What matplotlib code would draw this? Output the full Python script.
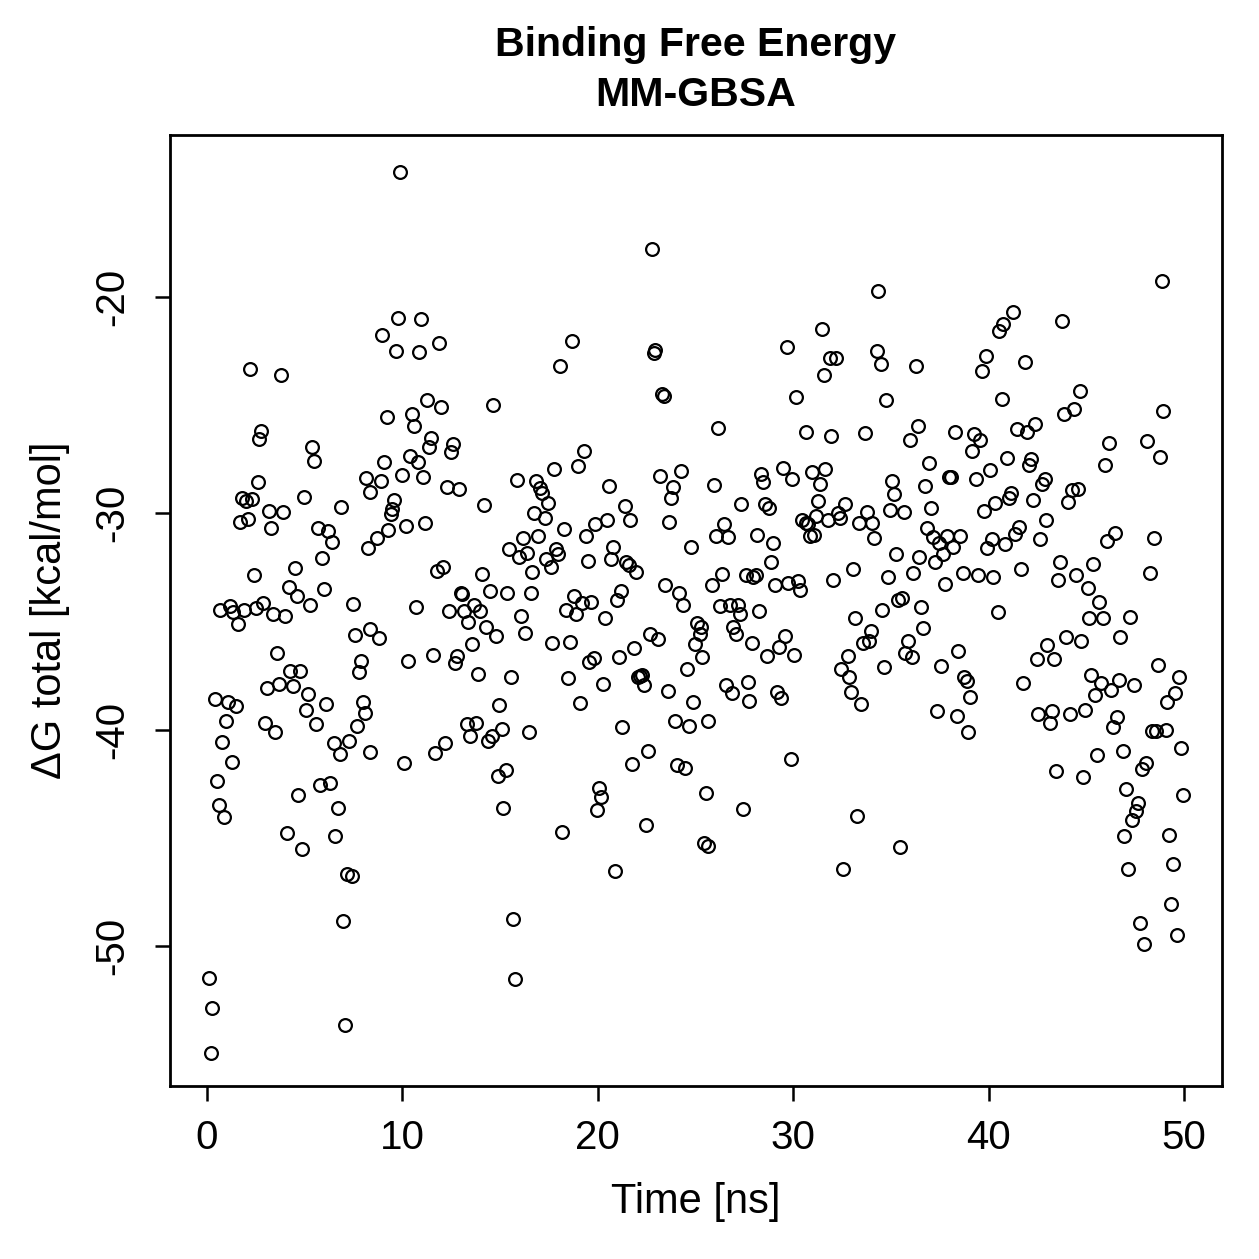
import matplotlib
matplotlib.use('Agg')
import matplotlib.pyplot as plt

# binding free energy per frame
time_ns = [
    2.20, 3.79, 2.76, 2.68, 5.39, 5.48, 2.59, 8.14, 8.34, 1.78, 2.00, 2.29, 4.98, 6.87, 3.17, 3.89,
    1.69, 2.08, 3.29, 5.68, 6.18, 6.38, 8.22, 5.89, 4.49, 2.39, 4.18, 4.59, 5.97, 5.27, 7.47, 0.67,
    1.18, 1.35, 1.89, 2.49, 2.88, 3.39, 3.99, 1.57, 7.57, 8.34, 3.58, 4.25, 4.76, 3.09, 3.68, 4.39,
    5.18, 6.07, 5.07, 5.56, 7.88, 7.79, 7.97, 8.07, 7.69, 7.28, 6.50, 6.79, 8.34, 0.39, 1.09, 1.48,
    0.99, 2.98, 3.50, 0.77, 1.28, 0.50, 0.60, 0.89, 5.78, 6.29, 4.67, 6.69, 4.08, 4.88, 6.57, 7.16,
    7.41, 6.98, 0.09, 0.27, 0.19, 7.08,
    9.88, 9.79, 10.97, 8.97, 9.67, 10.86, 11.87, 11.27, 11.98, 14.65, 9.20, 10.48, 10.58, 11.46, 11.38, 12.57,
    12.49, 10.39, 10.80, 9.07, 8.89, 9.96, 11.07, 12.27, 12.88, 15.86, 14.18, 9.59, 9.48, 9.40, 9.28, 10.18,
    11.17, 8.68, 16.75, 16.92, 16.17, 15.47, 15.97, 16.39, 12.06, 11.79, 14.09, 16.65, 13.00, 13.05, 14.48, 15.37,
    16.57, 10.68, 12.37, 13.17, 13.68, 13.97, 16.07, 13.37, 16.26, 14.26, 14.77, 13.58, 8.80, 10.30, 11.58, 12.79,
    12.69, 13.88, 15.57, 14.96, 13.29, 13.77, 13.47, 14.60, 14.37, 15.08, 16.48, 12.18, 11.68, 10.08, 15.29, 14.88,
    15.16, 15.66, 15.76,
    22.77, 18.66, 18.07, 22.94, 22.88, 23.30, 23.37, 19.28, 18.97, 17.77, 17.04, 17.16, 17.47, 16.86, 20.57, 23.17,
    24.27, 23.86, 23.76, 25.95, 21.38, 21.65, 20.47, 19.87, 17.30, 18.29, 19.38, 23.66, 24.77, 26.03, 20.76, 17.88,
    17.98, 17.33, 17.59, 19.48, 20.66, 21.44, 21.60, 21.95, 23.45, 24.17, 24.36, 25.86, 18.77, 19.67, 19.18, 18.37,
    18.87, 20.38, 21.17, 20.97, 25.06, 17.67, 18.58, 19.56, 19.81, 21.07, 21.87, 22.67, 23.08, 25.27, 25.23, 24.96,
    25.35, 24.56, 18.49, 20.27, 22.06, 22.16, 22.28, 22.38, 23.58, 24.86, 19.07, 21.25, 23.97, 24.67, 25.64, 22.57,
    21.77, 24.05, 24.46, 25.54, 20.08, 20.16, 19.97, 22.47, 18.17, 25.44, 25.65, 20.88,
    31.47, 29.67, 31.88, 32.17, 31.58, 30.14, 26.17, 30.65, 31.95, 33.66, 29.46, 28.35, 28.47, 29.95, 30.96, 31.64,
    31.37, 27.34, 28.57, 28.78, 31.27, 32.67, 32.28, 32.38, 33.76, 31.18, 30.47, 30.65, 30.77, 31.77, 33.38, 34.05,
    34.12, 26.47, 26.68, 28.16, 28.97, 30.86, 31.08, 28.86, 33.06, 26.37, 27.57, 27.96, 28.08, 29.07, 29.75, 30.26,
    30.35, 32.05, 26.25, 26.77, 27.19, 27.28, 28.26, 33.16, 26.93, 27.07, 27.88, 28.67, 29.27, 29.58, 30.06, 33.97,
    33.88, 33.56, 32.79, 32.46, 32.87, 32.97, 33.47, 26.56, 26.87, 27.67, 27.75, 29.16, 29.36, 29.87, 27.45, 33.27,
    32.56,
    34.36, 34.27, 34.48, 36.27, 41.26, 40.75, 40.55, 39.85, 39.66, 41.85, 34.75, 40.67, 36.37, 35.96, 38.26, 39.25,
    39.56, 39.15, 41.44, 42.36, 41.95, 36.97, 40.96, 42.15, 42.05, 40.06, 39.36, 37.99, 38.06, 35.06, 35.16, 36.76,
    42.87, 42.73, 41.13, 41.06, 40.34, 39.76, 42.26, 42.94, 34.95, 35.65, 37.05, 36.86, 37.17, 37.46, 37.85, 38.54,
    38.16, 37.65, 37.26, 36.45, 35.26, 36.15, 34.87, 37.75, 38.67, 39.44, 40.24, 40.17, 39.93, 40.84, 41.37, 41.56,
    42.65, 41.66, 35.38, 35.58, 34.56, 36.54, 40.46, 36.66, 35.86, 35.72, 36.06, 34.65, 37.55, 38.45, 38.76, 38.88,
    39.05, 37.36, 38.37, 38.95, 41.74, 42.46, 43.01, 43.35, 42.54, 43.26, 43.14, 35.47,
    48.86, 43.77, 44.66, 44.39, 43.86, 48.94, 46.16, 48.12, 48.76, 45.96, 44.28, 44.59, 44.05, 46.47, 46.06, 48.46,
    43.67, 43.57, 44.46, 45.36, 45.07, 45.66, 48.26, 45.15, 45.87, 47.25, 43.96, 44.74, 46.74, 48.65, 49.76, 49.54,
    49.13, 45.24, 45.75, 46.66, 46.26, 45.45, 47.46, 44.17, 44.95, 46.56, 46.35, 48.35, 48.55, 49.06, 49.85, 45.56,
    46.86, 48.05, 47.87, 43.45, 44.85, 47.05, 49.95, 47.63, 47.56, 47.35, 46.94, 49.25, 47.15, 49.45, 49.35, 47.75,
    49.66, 47.94,
]

delta_g = [
    -23.34, -23.61, -26.20, -26.58, -26.93, -27.58, -28.54, -28.37, -29.02, -29.28, -29.42, -29.34, -29.26, -29.72, -29.88, -29.95,
    -30.39, -30.28, -30.69, -30.69, -30.82, -31.31, -31.60, -32.07, -32.53, -32.87, -33.39, -33.82, -33.50, -34.25, -34.19, -34.47,
    -34.29, -34.55, -34.47, -34.39, -34.13, -34.67, -34.77, -35.13, -35.61, -35.36, -36.47, -37.29, -37.28, -38.06, -37.89, -37.97,
    -38.37, -38.80, -39.09, -39.76, -36.84, -37.34, -38.71, -39.22, -39.85, -40.54, -40.63, -41.13, -41.06, -38.57, -38.72, -38.91,
    -39.60, -39.71, -40.10, -40.56, -41.51, -42.38, -43.47, -44.04, -42.56, -42.47, -43.02, -43.64, -44.79, -45.53, -44.91, -46.66,
    -46.75, -48.83, -51.50, -52.88, -54.97, -53.64,
    -14.22, -20.96, -21.03, -21.77, -22.50, -22.53, -22.11, -24.76, -25.10, -25.01, -25.53, -25.42, -25.98, -26.53, -26.92, -26.78,
    -27.15, -27.34, -27.64, -27.64, -28.51, -28.23, -28.31, -28.77, -28.88, -28.45, -29.60, -29.37, -29.80, -30.05, -30.77, -30.57,
    -30.43, -31.14, -30.00, -31.05, -31.16, -31.66, -32.01, -31.82, -32.47, -32.68, -32.82, -32.70, -33.70, -33.75, -33.61, -33.68,
    -33.70, -34.32, -34.53, -34.53, -34.23, -34.53, -34.77, -35.01, -35.55, -35.24, -35.66, -36.06, -35.75, -36.83, -36.55, -36.60,
    -36.94, -37.43, -37.55, -38.88, -39.76, -39.71, -40.30, -40.30, -40.54, -39.99, -40.10, -40.63, -41.10, -41.56, -41.85, -42.13,
    -43.64, -48.77, -51.53,
    -17.77, -22.03, -23.19, -22.45, -22.58, -24.48, -24.58, -27.12, -27.80, -27.94, -28.84, -29.05, -29.51, -28.52, -28.72, -28.26,
    -28.06, -28.77, -29.28, -28.69, -29.66, -30.31, -30.31, -30.51, -30.22, -30.73, -31.05, -30.40, -31.54, -31.04, -31.54, -31.65,
    -31.88, -32.13, -32.47, -32.21, -32.10, -32.27, -32.39, -32.73, -33.31, -33.70, -34.24, -33.33, -33.82, -34.09, -34.16, -34.47,
    -34.66, -34.82, -33.59, -34.03, -35.07, -35.98, -35.94, -36.89, -36.70, -36.63, -36.21, -35.58, -35.80, -35.27, -35.58, -36.06,
    -36.66, -37.21, -37.60, -37.89, -37.57, -37.52, -37.48, -37.94, -38.20, -38.74, -38.78, -39.88, -39.62, -39.82, -39.62, -40.99,
    -41.58, -41.64, -41.79, -42.95, -42.71, -43.12, -43.72, -44.41, -44.75, -45.26, -45.38, -46.52,
    -21.48, -22.33, -22.83, -22.81, -23.62, -24.61, -26.07, -26.24, -26.41, -26.29, -27.92, -28.20, -28.54, -28.40, -28.09, -27.95,
    -28.63, -29.56, -29.58, -29.77, -29.43, -29.57, -29.97, -30.23, -29.94, -30.14, -30.31, -30.43, -30.49, -30.31, -30.46, -30.46,
    -31.16, -30.49, -31.08, -31.02, -31.39, -31.05, -31.02, -32.27, -32.56, -32.81, -32.84, -32.93, -32.87, -33.33, -33.24, -33.12,
    -33.55, -33.07, -34.29, -34.24, -34.22, -34.68, -34.50, -34.86, -35.24, -35.58, -36.00, -36.58, -36.17, -35.66, -36.55, -35.44,
    -35.89, -36.01, -36.60, -37.20, -37.55, -38.26, -38.82, -37.94, -38.29, -37.80, -38.66, -38.26, -38.53, -41.36, -43.69, -43.99,
    -46.44,
    -19.71, -22.51, -23.11, -23.18, -20.68, -21.25, -21.56, -22.73, -23.42, -23.02, -24.75, -24.73, -25.95, -26.63, -26.23, -26.32,
    -26.63, -27.12, -26.10, -25.87, -26.23, -27.66, -27.44, -27.50, -27.78, -28.01, -28.40, -28.31, -28.31, -28.52, -29.12, -28.74,
    -28.43, -28.65, -29.05, -29.28, -29.52, -29.89, -29.37, -30.32, -29.85, -29.95, -29.77, -30.67, -31.08, -31.39, -31.04, -31.05,
    -31.57, -31.88, -32.24, -32.01, -31.88, -32.75, -32.93, -33.28, -32.76, -32.84, -32.96, -31.19, -31.59, -31.43, -30.96, -30.65,
    -31.19, -32.56, -34.01, -33.90, -34.47, -34.35, -34.55, -35.29, -35.90, -36.47, -36.63, -37.09, -37.06, -36.35, -37.58, -37.74,
    -38.51, -39.14, -39.37, -40.10, -37.83, -36.74, -36.10, -36.74, -39.27, -39.14, -39.68, -45.43,
    -19.26, -21.12, -24.36, -25.18, -25.42, -25.26, -26.74, -26.66, -27.41, -27.77, -28.92, -28.86, -29.46, -30.91, -31.27, -31.16,
    -32.25, -33.08, -32.87, -32.36, -33.45, -34.08, -32.77, -34.85, -34.85, -34.81, -35.71, -35.89, -35.71, -37.00, -37.55, -38.32,
    -38.71, -37.49, -37.86, -37.71, -38.17, -38.41, -37.94, -39.28, -39.09, -39.40, -39.88, -40.05, -40.08, -40.02, -40.86, -41.17,
    -40.98, -41.53, -41.81, -41.91, -42.21, -42.73, -43.04, -43.41, -43.75, -44.18, -44.93, -44.89, -46.43, -46.20, -48.08, -48.94,
    -49.50, -49.90,
]

x_ticks = [0, 10, 20, 30, 40, 50]
y_ticks = [-20, -30, -40, -50]

plt.rcParams['font.family'] = ['Liberation Sans', 'DejaVu Sans']

fig = plt.figure(figsize=(6.295, 6.295), dpi=200)
ax = fig.add_axes([0.135, 0.1374, 0.8356, 0.7554])

# open circles, like R's default plot()
ax.plot(time_ns, delta_g, linestyle='none', marker='o', markersize=4.6,
        markerfacecolor='none', markeredgecolor='black', markeredgewidth=0.8)

ax.set_xlim(-1.89, 51.94)
ax.set_ylim(-56.48, -12.51)
ax.set_xticks(x_ticks)
ax.set_yticks(y_ticks)
ax.set_yticklabels([str(v) for v in y_ticks], rotation=90, va='center')

for s in ax.spines.values():
    s.set_linewidth(1.0)
ax.tick_params(direction='out', length=5.5, width=0.9, labelsize=14.5)
ax.tick_params(axis='x', pad=6.5)
ax.tick_params(axis='y', pad=8.5)

fig.text(0.5528, 0.964, 'Binding Free Energy', ha='center', va='center',
         fontsize=14.8, fontweight='bold')
fig.text(0.5528, 0.9245, 'MM-GBSA', ha='center', va='center',
         fontsize=14.8, fontweight='bold')
fig.text(0.5528, 0.0453, 'Time [ns]', ha='center', va='center', fontsize=15)
fig.text(0.0397, 0.515, '\u0394G total [kcal/mol]', ha='center', va='center',
         rotation=90, fontsize=15)

fig.savefig('out.png', dpi=200)
